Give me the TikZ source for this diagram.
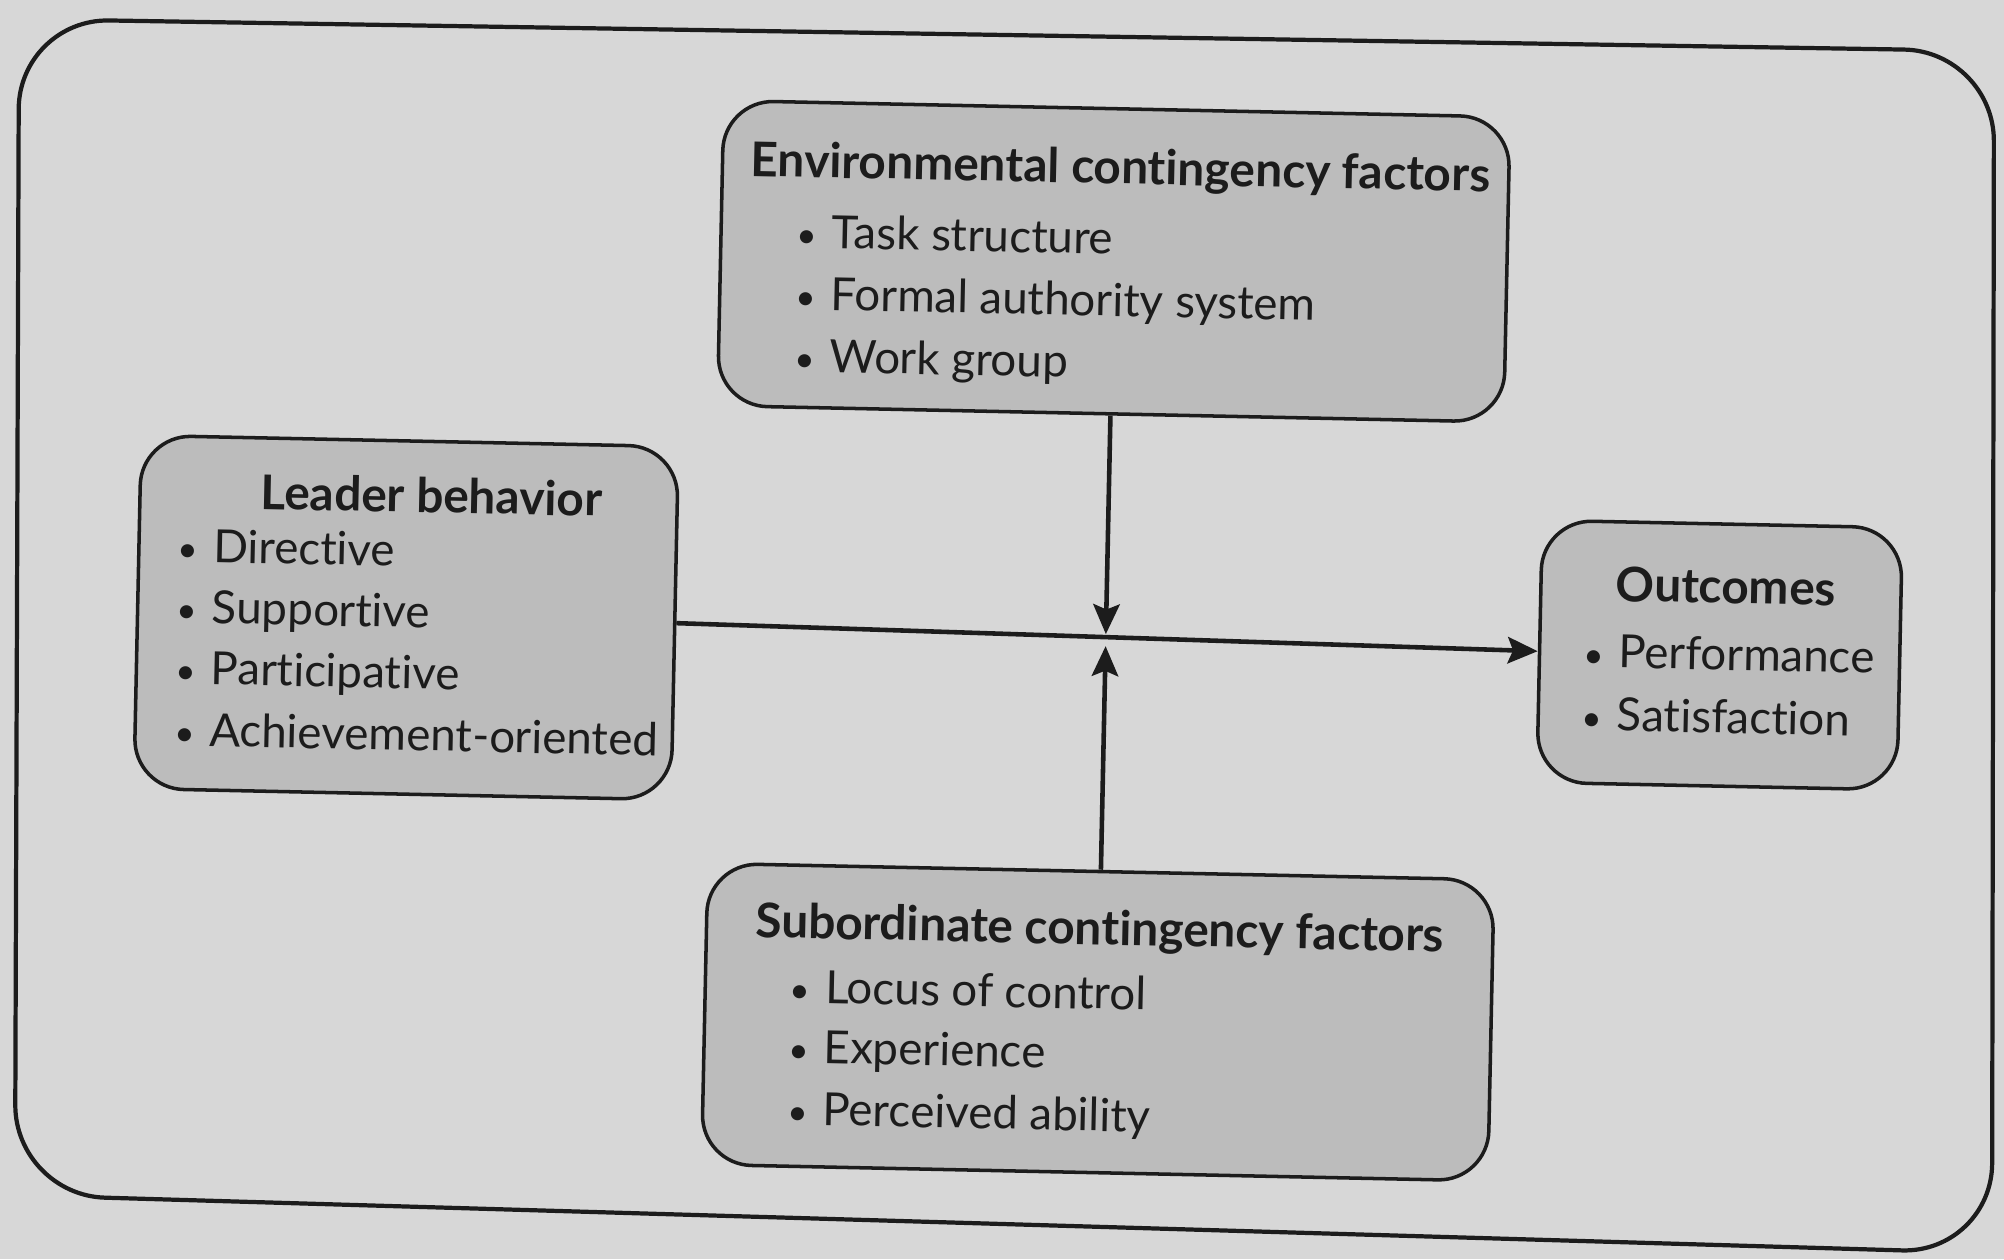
\documentclass[tikz,border=0pt]{standalone}
\usepackage{fontspec}
\setmainfont{Lato}[Ligatures=NoCommon]
\usetikzlibrary{arrows.meta}
\definecolor{page}{HTML}{D7D7D7}
\definecolor{boxg}{HTML}{BCBCBC}
\definecolor{ink}{HTML}{1C1C1C}
\newcommand{\blt}{{\fontsize{10}{10}\selectfont•}\hspace{4.2pt}}
\begin{document}
\begin{tikzpicture}[x=0.01cm,y=-0.01cm,
  boxst/.style={draw=ink, line width=1pt, fill=boxg, rounded corners=0.5cm, inner sep=0pt},
  ttl/.style={font=\fontsize{13.6}{17.6}\selectfont\bfseries, text=ink, inner sep=0pt},
  itm/.style={font=\fontsize{13}{17.6}\selectfont, text=ink, inner sep=0pt, anchor=mid west},
  arr/.style={draw=ink, line width=1.3pt, -{Stealth[length=8.5pt,width=7.5pt,inset=1.5pt]}}]
\fill[page] (0,0) rectangle (2004,1259);
\useasboundingbox (0,0) rectangle (2004,1259);
\draw[ink, line width=1.2pt, rounded corners=0.9cm] (19,19) -- (1994,51) -- (1992,1253) -- (15,1195) -- cycle;
\begin{scope}[rotate around={-1.2:(1002,630)}, transform shape]
  % boxes
  \node[boxst, minimum width=7.86cm, minimum height=3.05cm] (env) at (1106,259) {};
  \node[boxst, minimum width=5.37cm, minimum height=3.53cm] (lead) at (406,630) {};
  \node[boxst, minimum width=3.60cm, minimum height=2.62cm] (out) at (1720,640) {};
  \node[boxst, minimum width=7.86cm, minimum height=3.01cm] (sub) at (1106,1020) {};
  % environmental
  \node[ttl] (envt) at (1111,168) {Environmental contingency factors};
  \node[itm] (env1) at (788,243) {\blt Task structure};
  \node[itm] (env2) at (788,305) {\blt Formal authority system};
  \node[itm] (env3) at (788,367) {\blt Work group};
  % leader
  \node[ttl] (leadt) at (429,507) {Leader behavior};
  \node[itm] (lead1) at (176,570) {\blt Directive};
  \node[itm] (lead2) at (176,631) {\blt Supportive};
  \node[itm] (lead3) at (176,692) {\blt Participative};
  \node[itm] (lead4) at (176,754) {\blt Achievement-oriented};
  % outcomes
  \node[ttl] (outt) at (1725,571) {Outcomes};
  \node[itm] (out1) at (1583,646) {\blt Performance};
  \node[itm] (out2) at (1583,709) {\blt Satisfaction};
  % subordinate
  \node[ttl] (subt) at (1106,929) {Subordinate contingency factors};
  \node[itm] (sub1) at (797,998) {\blt Locus of control};
  \node[itm] (sub2) at (797,1058) {\blt Experience};
  \node[itm] (sub3) at (797,1120) {\blt Perceived ability};
  % connectors
  \coordinate (xa) at (1106,632);
  \coordinate (xb) at (1106,644);
  \draw[arr] (lead.east) -- (out.west);
  \draw[arr] (env.south) -- (xa);
  \draw[arr] (sub.north) -- (xb);
\end{scope}
\end{tikzpicture}
\end{document}
